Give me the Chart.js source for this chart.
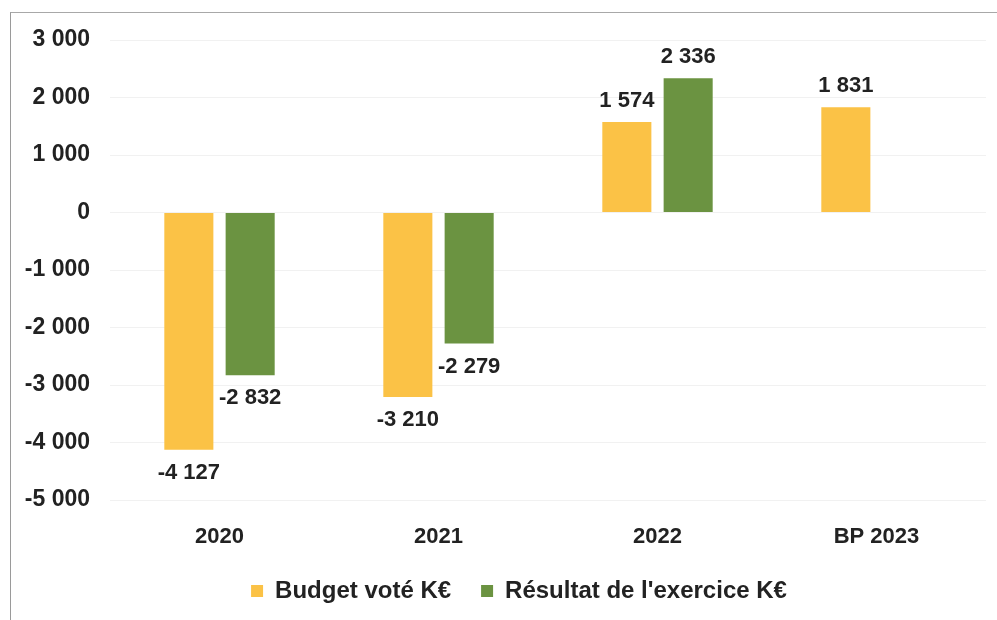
<!DOCTYPE html>
<html>
<head>
<meta charset="utf-8">
<script src="https://cdn.jsdelivr.net/npm/chart.js@4.4.1/dist/chart.umd.min.js"></script>
<style>
    html, body { margin: 0; padding: 0; background: #fff; }
    #wrap { position: relative; width: 997px; height: 620px; }
    #frame {
        position: absolute; left: 10px; top: 12px; right: 0; bottom: 0;
        border-top: 1px solid #a8a8a8; border-left: 1px solid #9a9a9a;
        pointer-events: none;
    }
</style>
</head>
<body>
<div id="wrap">
    <canvas id="resultChart" width="997" height="620"></canvas>
    <div id="frame"></div>
</div>
<script>
// values (K€)
var categories = ['2020', '2021', '2022', 'BP 2023'];
var budgetVote = [-4127, -3210, 1574, 1831];
var resultatExercice = [-2832, -2279, 2336, null];
var yTicks = [3000, 2000, 1000, 0, -1000, -2000, -3000, -4000, -5000];

var FONT = "'Liberation Sans', Arial, sans-serif";
var TEXT = '#222';

function fmtK(v) {
    var neg = v < 0;
    var s = String(Math.abs(Math.round(v)));
    s = s.replace(/\B(?=(\d{3})+(?!\d))/g, ' ');
    return (neg ? '-' : '') + s;
}

// value labels above positive bars, below negative ones
var barLabels = {
    id: 'barLabels',
    afterDatasetsDraw: function (chart) {
        var ctx = chart.ctx;
        ctx.save();
        ctx.font = 'bold 22px ' + FONT;
        ctx.fillStyle = TEXT;
        ctx.textAlign = 'center';
        chart.data.datasets.forEach(function (ds, i) {
            var meta = chart.getDatasetMeta(i);
            meta.data.forEach(function (bar, j) {
                var v = ds.data[j];
                if (v === null || v === undefined) return;
                if (v >= 0) {
                    ctx.textBaseline = 'bottom';
                    ctx.fillText(fmtK(v), bar.x, bar.y - 10);
                } else {
                    ctx.textBaseline = 'top';
                    ctx.fillText(fmtK(v), bar.x, bar.y + 12);
                }
            });
        });
        ctx.restore();
    }
};

// y tick labels drawn outside the (narrow) axis box, right aligned at x=90
var yLabels = {
    id: 'yLabels',
    afterDraw: function (chart) {
        var y = chart.scales.y;
        var ctx = chart.ctx;
        ctx.save();
        ctx.font = 'bold 23px ' + FONT;
        ctx.fillStyle = TEXT;
        ctx.textAlign = 'right';
        ctx.textBaseline = 'middle';
        yTicks.forEach(function (v) {
            ctx.fillText(fmtK(v), 90, y.getPixelForValue(v));
        });
        ctx.restore();
    }
};

document.addEventListener('DOMContentLoaded', function () {
    var ctx = document.getElementById('resultChart').getContext('2d');
    new Chart(ctx, {
        type: 'bar',
        data: {
            labels: categories,
            datasets: [
                {
                    label: 'Budget voté K€',
                    data: budgetVote,
                    backgroundColor: '#fbc246',
                    borderWidth: 0
                },
                {
                    label: "Résultat de l'exercice K€",
                    data: resultatExercice,
                    backgroundColor: '#6b9341',
                    borderWidth: 0
                }
            ]
        },
        options: {
            responsive: false,
            animation: false,
            categoryPercentage: 0.56,
            barPercentage: 0.8,
            layout: { padding: { top: 40, left: 52, right: 11, bottom: 7 } },
            plugins: {
                legend: {
                    position: 'bottom',
                    labels: {
                        boxWidth: 12,
                        boxHeight: 12,
                        padding: 30,
                        color: TEXT,
                        font: { family: FONT, size: 24, weight: 'bold' }
                    }
                },
                tooltip: { enabled: false }
            },
            scales: {
                x: {
                    grid: { display: false, drawTicks: false },
                    border: { display: false },
                    ticks: {
                        padding: 24,
                        color: TEXT,
                        font: { family: FONT, size: 22, weight: 'bold' }
                    },
                    afterFit: function (scale) { scale.height = 49; }
                },
                y: {
                    min: -5000,
                    max: 3000,
                    afterBuildTicks: function (scale) {
                        scale.ticks = yTicks.map(function (v) { return { value: v }; });
                    },
                    grid: { color: '#f1f1f1', drawTicks: false },
                    border: { display: false },
                    ticks: { display: false },
                    afterFit: function (scale) { scale.width = 58; }
                }
            }
        },
        plugins: [barLabels, yLabels]
    });
});
</script>
</body>
</html>
